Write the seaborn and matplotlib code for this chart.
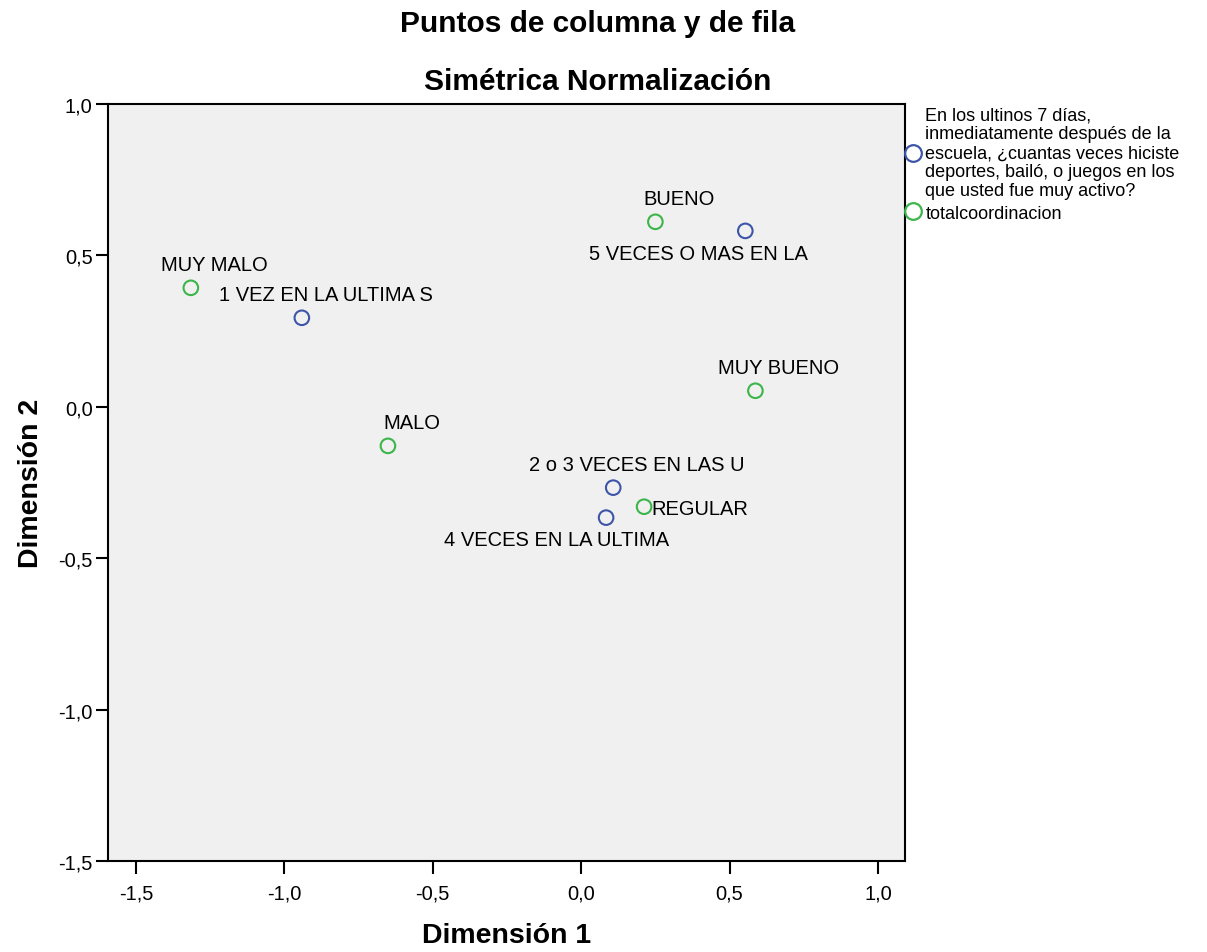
import matplotlib
matplotlib.use('Agg')
import matplotlib.pyplot as plt
import seaborn as sns
import pandas as pd
import numpy as np

# Row points (blue): frecuencia de actividad
row_labels = ['1 VEZ EN LA ULTIMA S', '2 o 3 VECES EN LAS U', '4 VECES EN LA ULTIMA', '5 VECES O MAS EN LA']
row_dim1 = [-0.941, 0.108, 0.084, 0.553]
row_dim2 = [0.294, -0.267, -0.366, 0.581]

# Column points (green): totalcoordinacion
col_labels = ['MUY MALO', 'MALO', 'REGULAR', 'BUENO', 'MUY BUENO']
col_dim1 = [-1.315, -0.651, 0.212, 0.250, 0.587]
col_dim2 = [0.393, -0.129, -0.330, 0.611, 0.053]

row_name = ('En los ultinos 7 días,\ninmediatamente después de la\nescuela, ¿cuantas veces hiciste\n'
            'deportes, bailó, o juegos en los\nque usted fue muy activo?')
col_name = 'totalcoordinacion'

x_ticks = [-1.5, -1.0, -0.5, 0.0, 0.5, 1.0]
y_ticks = [-1.5, -1.0, -0.5, 0.0, 0.5, 1.0]

df = pd.DataFrame({
    'dim1': row_dim1 + col_dim1,
    'dim2': row_dim2 + col_dim2,
    'label': row_labels + col_labels,
    'grupo': [row_name] * len(row_labels) + [col_name] * len(col_labels),
})

sns.set_style('white')
plt.rcParams['font.family'] = ['Liberation Sans', 'DejaVu Sans']
plt.rcParams['text.color'] = 'black'
plt.rcParams['axes.labelcolor'] = 'black'
plt.rcParams['xtick.color'] = 'black'
plt.rcParams['ytick.color'] = 'black'

fig = plt.figure(figsize=(12.07, 9.53), dpi=100)
ax = fig.add_axes([0.0895, 0.0955, 0.6603, 0.7943])
ax.set_facecolor('#f0f0f0')

palette = {row_name: '#3d55a8', col_name: '#3cb54a'}
sns.scatterplot(data=df, x='dim1', y='dim2', hue='grupo', palette=palette, ax=ax,
                marker='o', s=110, linewidth=1.5, legend=False)
# hollow circles
coll = ax.collections[0]
coll.set_edgecolors([palette[g] for g in df['grupo']])
coll.set_facecolors('none')

# label offsets in points (dx, dy, ha)
offsets = {
    'MUY MALO': (17, 17, 'center'),
    '1 VEZ EN LA ULTIMA S': (17, 17, 'center'),
    'MALO': (17, 17, 'center'),
    'BUENO': (17, 17, 'center'),
    '5 VECES O MAS EN LA': (-34, -16, 'center'),
    'MUY BUENO': (17, 17, 'center'),
    '2 o 3 VECES EN LAS U': (17, 17, 'center'),
    'REGULAR': (5, -1, 'left'),
    '4 VECES EN LA ULTIMA': (-36, -16, 'center'),
}
for _, r in df.iterrows():
    dx, dy, ha = offsets[r['label']]
    ax.annotate(r['label'], (r['dim1'], r['dim2']), xytext=(dx, dy), textcoords='offset points',
                ha=ha, va='center', fontsize=14.5, color='black')

ax.set_xlim(-1.594, 1.091)
ax.set_ylim(-1.5, 1.0)
ax.set_xticks(x_ticks)
ax.set_yticks(y_ticks)
ax.set_xticklabels([f'{t:.1f}'.replace('.', ',') for t in x_ticks], fontsize=14.5)
ax.set_yticklabels([f'{t:.1f}'.replace('.', ',') for t in y_ticks], fontsize=14.5)
ax.tick_params(axis='both', direction='out', length=9, width=1.5, color='black', left=True, bottom=True)
ax.tick_params(axis='x', pad=7)
ax.tick_params(axis='y', pad=2)
for sp in ax.spines.values():
    sp.set_visible(True)
    sp.set_color('black')
    sp.set_linewidth(1.5)

ax.set_xlabel('Dimensión 1', fontsize=20.5, fontweight='bold', labelpad=14)
ax.set_ylabel('Dimensión 2', fontsize=20.5, fontweight='bold', labelpad=10)

fig.text(0.495, 0.975, 'Puntos de columna y de fila', ha='center', va='center',
         fontsize=21.5, fontweight='bold')
fig.text(0.495, 0.914, 'Simétrica Normalización', ha='center', va='center',
         fontsize=21.5, fontweight='bold')

# legend
handles = [plt.Line2D([], [], marker='o', linestyle='none', markersize=12, markerfacecolor='none',
                      markeredgecolor=palette[g], markeredgewidth=1.6) for g in [row_name, col_name]]
leg = fig.legend(handles, [row_name, col_name], loc='upper left', bbox_to_anchor=(0.742, 0.895),
                 frameon=False, fontsize=13, handletextpad=0.15, handlelength=1.1,
                 labelspacing=0.3, borderaxespad=0)
for t in leg.get_texts():
    t.set_linespacing(1.15)

fig.savefig('out.png', dpi=100)
